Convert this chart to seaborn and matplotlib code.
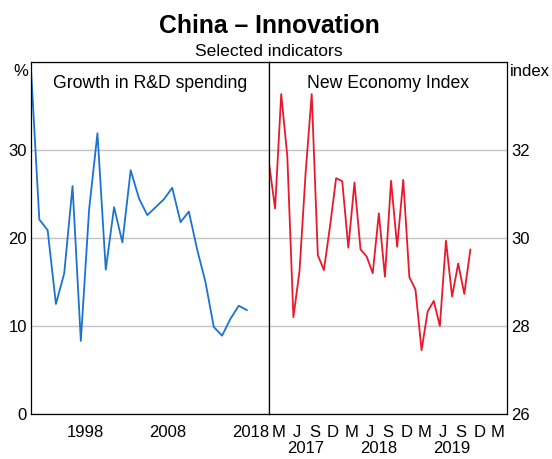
import matplotlib.pyplot as plt
import matplotlib.transforms as mtransforms
import pandas as pd
import seaborn as sns

# Growth in R&D spending, annual, %
rd_years = list(range(1992, 2019))
rd_growth = [39.2, 22.1, 20.9, 12.5, 16.0, 25.9, 8.3, 23.3, 31.9, 16.4,
             23.5, 19.5, 27.7, 24.5, 22.6, 23.5, 24.4, 25.7, 21.8, 23.0,
             18.7, 15.0, 9.9, 8.9, 10.8, 12.3, 11.8]

# New Economy Index, monthly
nei_months = pd.date_range("2017-01-01", "2019-10-01", freq="MS")
nei_values = [31.70, 30.67, 33.27, 31.86, 28.20, 29.25, 31.48, 33.27, 29.61, 29.27,
              30.27, 31.36, 31.29, 29.78, 31.26, 29.74, 29.58, 29.20, 30.56, 29.12,
              31.30, 29.80, 31.32, 29.11, 28.83, 27.45, 28.33, 28.57, 28.00, 29.94,
              28.67, 29.42, 28.73, 29.74]

left_year_labels = ["1998", "2008", "2018"]
quarter_labels = ["M", "J", "S", "D", "M", "J", "S", "D", "M", "J", "S", "D", "M"]
right_year_labels = ["2017", "2018", "2019"]

BLUE = "#1a73d0"
RED = "#e8192c"
GRID = "#c4c4c4"

sns.set_theme(style="white")
plt.rcParams["font.family"] = ["Liberation Sans", "DejaVu Sans"]
plt.rcParams.update({"text.color": "black", "xtick.color": "black",
                     "ytick.color": "black", "axes.labelcolor": "black"})

fig = plt.figure(figsize=(5.52, 4.59), dpi=100)
l, m, r = 31 / 552, 269 / 552, 507 / 552
b, t = 1 - 414 / 459, 1 - 62 / 459
ax1 = fig.add_axes([l, b, m - l, t - b])
ax2 = fig.add_axes([m, b, r - m, t - b])

rd = pd.DataFrame({"year": rd_years, "growth": rd_growth})
nei = pd.DataFrame({"date": nei_months, "value": nei_values})
nei["month"] = (nei["date"].dt.year - 2017) * 12 + nei["date"].dt.month - 1

sns.lineplot(data=rd, x="year", y="growth", ax=ax1, color=BLUE, lw=1.3)
sns.lineplot(data=nei, x="month", y="value", ax=ax2, color=RED, lw=1.3)

for ax in (ax1, ax2):
    ax.set_xlabel("")
    ax.set_ylabel("")
    for s in ax.spines.values():
        s.set_color("black")
        s.set_linewidth(0.9)
    ax.grid(axis="y", color=GRID, lw=1.0)
    ax.set_axisbelow(True)
    ax.tick_params(axis="y", length=0, labelsize=12, pad=3)
    ax.tick_params(axis="x", which="major", direction="in", length=5, width=0.8,
                   color="black", labelbottom=False)
    ax.tick_params(axis="x", which="minor", length=0, labelsize=12, pad=8)

# left panel
ax1.set_xlim(1992, 2020.65)
ax1.set_ylim(0, 40)
ax1.set_yticks([0, 10, 20, 30, 40])
ax1.set_yticklabels(["0", "10", "20", "30", ""])
ax1.set_xticks(range(1993, 2021))
ax1.set_xticks([int(y) + 0.5 for y in left_year_labels], minor=True)
ax1.set_xticklabels(left_year_labels, minor=True)
ax1.text(-0.012, 0.995, "%", transform=ax1.transAxes, ha="right", va="top", fontsize=12)
ax1.text(0.5, 0.926, "Growth in R&D spending", transform=ax1.transAxes,
         ha="center", va="baseline", fontsize=12.7)

# right panel
ax2.set_xlim(0, 39)
ax2.set_ylim(26, 34)
ax2.yaxis.tick_right()
ax2.set_yticks([26, 28, 30, 32, 34])
ax2.set_yticklabels(["26", "28", "30", "32", ""])
ax2.set_xticks(range(3, 39, 3))
ax2.set_xticks([3 * i + 1.5 for i in range(len(quarter_labels))], minor=True)
ax2.set_xticklabels(quarter_labels, minor=True)
trans = mtransforms.blended_transform_factory(ax2.transData, ax2.transAxes)
for i, yl in enumerate(right_year_labels):
    ax2.text(12 * i + 6, -0.099, yl, transform=trans, ha="center", va="center", fontsize=12)
ax2.text(1.012, 0.995, "index", transform=ax2.transAxes, ha="left", va="top", fontsize=12)
ax2.text(0.5, 0.926, "New Economy Index", transform=ax2.transAxes,
         ha="center", va="baseline", fontsize=12.7)

fig.text(269 / 552, 1 - 33 / 459, "China \u2013 Innovation", ha="center", va="baseline",
         fontsize=17.8, fontweight="bold")
fig.text(269 / 552, 1 - 56 / 459, "Selected indicators", ha="center", va="baseline",
         fontsize=12.6)

fig.savefig("out.png", dpi=100)
